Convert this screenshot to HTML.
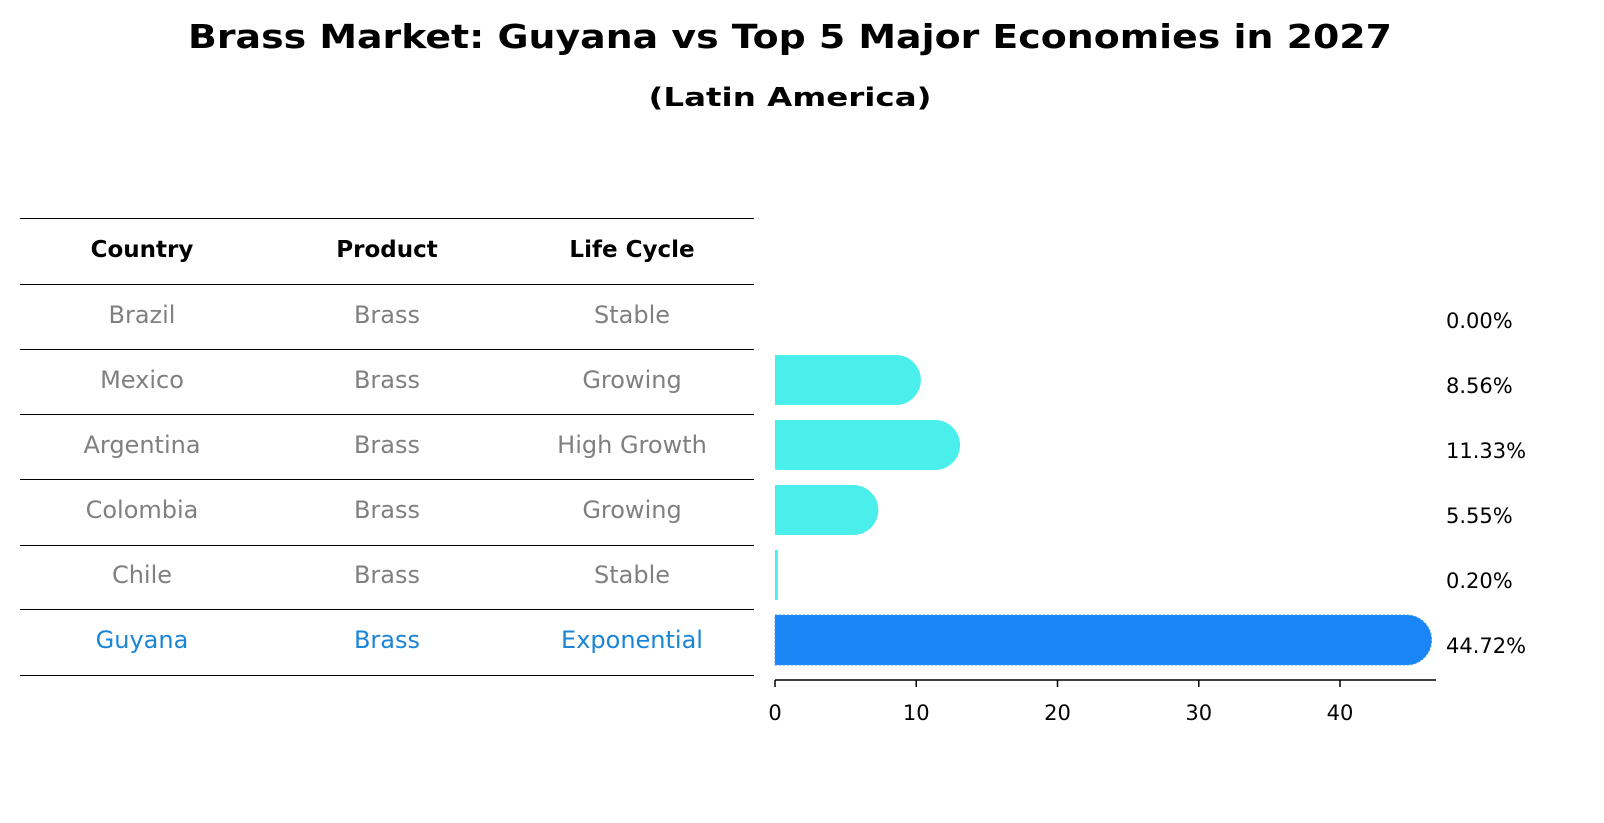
<!DOCTYPE html>
<html><head><meta charset="utf-8"><style>
body{margin:0;background:#fff;font-family:"Liberation Sans","DejaVu Sans",sans-serif;overflow:hidden}
</style></head><body>
<svg width="1604" height="823" viewBox="0 0 1604 823" xmlns="http://www.w3.org/2000/svg" font-family="DejaVu Sans, Liberation Sans, sans-serif" style="display:block">
<text x="790" y="48" text-anchor="middle" font-size="33" font-weight="bold" textLength="1204" lengthAdjust="spacingAndGlyphs">Brass Market: Guyana vs Top 5 Major Economies in 2027</text>
<text x="790" y="106" text-anchor="middle" font-size="26" font-weight="bold" textLength="283" lengthAdjust="spacingAndGlyphs">(Latin America)</text>
<g id="table"></g>
<g id="bars"></g>
<g id="axis"></g>
</svg>
<script>
const countries=["Brazil","Mexico","Argentina","Colombia","Chile","Guyana"];
const products=["Brass","Brass","Brass","Brass","Brass","Brass"];
const cycles=["Stable","Growing","High Growth","Growing","Stable","Exponential"];
const values=[0.00,8.56,11.33,5.55,0.20,44.72];
const ticks=[0,10,20,30,40];
const NS="http://www.w3.org/2000/svg";
function mk(tag,attrs,parent,text){const e=document.createElementNS(NS,tag);for(const k in attrs)e.setAttribute(k,attrs[k]);if(text!==undefined)e.textContent=text;parent.appendChild(e);return e;}
const x0=775,sc=14.125;
const xs=v=>x0+v*sc;
const rowY=i=>315+i*65;
const tbl=document.getElementById('table');
const lineYs=[218,284,349,414,479,545,609,675];
lineYs.forEach(y=>{const l=mk('line',{x1:20,x2:754,y1:y+0.5,y2:y+0.5,stroke:'#000','stroke-width':1,'shape-rendering':'crispEdges'},tbl);

});
const colX=[142,387,632];
["Country","Product","Life Cycle"].forEach((h,j)=>{const t=mk('text',{x:colX[j],y:257,'text-anchor':'middle','font-size':23,'font-weight':'bold'},tbl,h);

});
countries.forEach((c,i)=>{const col=i===5?'#1a85d6':'#808080';
[c,products[i],cycles[i]].forEach((v,j)=>{const t=mk('text',{x:colX[j],y:rowY(i)+8,'text-anchor':'middle','font-size':24,fill:col},tbl,v);

});});
const bars=document.getElementById('bars');
values.forEach((v,i)=>{const y=rowY(i)-25,h=50;const w=v*sc+(v>1?25:0);
const fill=i===5?'#1a85f5':'#4aeeea';
if(w>0){let p;
if(w>25){const r=25;p=mk('path',{d:`M${x0},${y} H${x0+w-r} A${r},${r} 0 0 1 ${x0+w-r},${y+h} H${x0} Z`,fill:fill},bars);}
else{p=mk('rect',{x:x0,y:y,width:w,height:h,fill:fill},bars);}
if(i===5){p.setAttribute('stroke','#3a95ff');p.setAttribute('stroke-dasharray','2,2');}

}
const t=mk('text',{x:1446,y:rowY(i)+13,'font-size':21},bars,v.toFixed(2)+'%');

});
const ax=document.getElementById('axis');
mk('line',{x1:x0,x2:1436,y1:680,y2:680,stroke:'#000','stroke-width':1.5},ax);
ticks.forEach(t=>{mk('line',{x1:xs(t),x2:xs(t),y1:680,y2:687,stroke:'#000','stroke-width':1.5},ax);
const l=mk('text',{x:xs(t),y:720,'text-anchor':'middle','font-size':21},ax,t);

});
</script>
</body></html>
